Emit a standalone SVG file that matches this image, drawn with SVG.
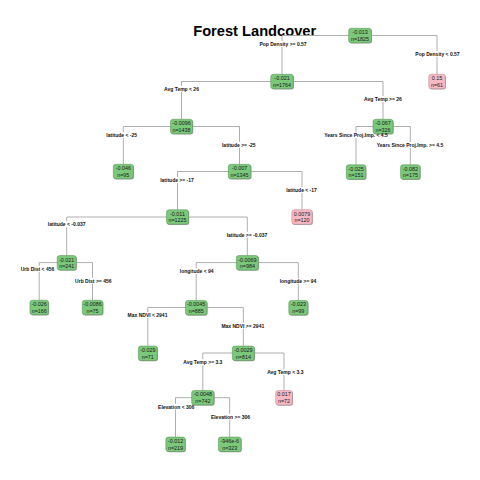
<svg xmlns="http://www.w3.org/2000/svg" width="480" height="480" viewBox="0 0 480 480">
  <style>
    .edge { fill: none; stroke: #a6a6a6; stroke-width: 0.9; }
    .shadow { fill: #a9a9a9; }
    .g { fill: #7bc87b; stroke: #4f8f4f; stroke-width: 0.5; }
    .p { fill: #f8b9c5; stroke: #b07f88; stroke-width: 0.5; }
    .nt { font-family: "Liberation Sans", Arial, sans-serif; font-size: 5.4px; fill: #1a1a1a; text-anchor: middle; }
    .lbl { font-family: "Liberation Sans", Arial, sans-serif; font-size: 5px; fill: #111; text-anchor: middle; font-weight: 600; }
    .lbg { fill: #ffffff; }
    .title { font-family: "Liberation Sans", Arial, sans-serif; font-size: 15.5px; font-weight: bold; fill: #000; text-anchor: middle; }
  </style>

  <rect width="480" height="480" fill="#ffffff"/>

  <text class="title" x="254.7" y="35.7" textLength="123" lengthAdjust="spacingAndGlyphs">Forest Landcover</text>

  <!-- branch lines: from left child up to parent level, across, down to right child -->
  <g id="connectors">
    <path class="edge" d="M282 74.2V35.5H437V74.2"/>
    <path class="edge" d="M181.5 119.2V81.5H383V119.2"/>
    <path class="edge" d="M123.3 164.2V126.5H239.5V164.2"/>
    <path class="edge" d="M356 164.7V126.5H410.3V164.7"/>
    <path class="edge" d="M177.5 209.7V171.5H302V209.7"/>
    <path class="edge" d="M66.7 255.5V217H247.3V255.5"/>
    <path class="edge" d="M39.2 300.2V262.6H92.5V300.2"/>
    <path class="edge" d="M196.2 300.4V262.6H298.3V300.4"/>
    <path class="edge" d="M147.8 346V307.5H243.3V346"/>
    <path class="edge" d="M202.8 390.4V353H284V390.4"/>
    <path class="edge" d="M175.5 437V397.7H229.7V437"/>
  </g>

  <!-- tree nodes: mean response and observation count -->
  <g id="n1" transform="translate(360 35.5)">
    <rect class="shadow" x="-10.6" y="-6.5" width="22.7" height="14.5" rx="2.5"/>
    <rect class="g" x="-11.35" y="-7.25" width="22.7" height="14.5" rx="2.5"/>
    <text class="nt" y="-1.3">-0.013</text><text class="nt" y="5.3">n=1825</text>
  </g>
  <g id="n2" transform="translate(282 81.5)">
    <rect class="shadow" x="-10.5" y="-6.5" width="22.5" height="14.5" rx="2.5"/>
    <rect class="g" x="-11.25" y="-7.25" width="22.5" height="14.5" rx="2.5"/>
    <text class="nt" y="-1.3">-0.021</text><text class="nt" y="5.3">n=1764</text>
  </g>
  <g id="n3" transform="translate(437 81.5)">
    <rect class="shadow" x="-7.5" y="-6.5" width="16.5" height="14.5" rx="2.5"/>
    <rect class="p" x="-8.25" y="-7.25" width="16.5" height="14.5" rx="2.5"/>
    <text class="nt" y="-1.3">0.15</text><text class="nt" y="5.3">n=61</text>
  </g>
  <g id="n4" transform="translate(181.5 126.5)">
    <rect class="shadow" x="-10.25" y="-6.5" width="22" height="14.5" rx="2.5"/>
    <rect class="g" x="-11" y="-7.25" width="22" height="14.5" rx="2.5"/>
    <text class="nt" y="-1.3">-0.0096</text><text class="nt" y="5.3">n=1438</text>
  </g>
  <g id="n5" transform="translate(383 126.5)">
    <rect class="shadow" x="-9.25" y="-6.5" width="20" height="14.5" rx="2.5"/>
    <rect class="g" x="-10" y="-7.25" width="20" height="14.5" rx="2.5"/>
    <text class="nt" y="-1.3">-0.067</text><text class="nt" y="5.3">n=326</text>
  </g>
  <g id="n8" transform="translate(123.3 171.5)">
    <rect class="shadow" x="-9.25" y="-6.5" width="20" height="14.5" rx="2.5"/>
    <rect class="g" x="-10" y="-7.25" width="20" height="14.5" rx="2.5"/>
    <text class="nt" y="-1.3">-0.046</text><text class="nt" y="5.3">n=95</text>
  </g>
  <g id="n9" transform="translate(239.5 171.5)">
    <rect class="shadow" x="-10.5" y="-6.5" width="22.5" height="14.5" rx="2.5"/>
    <rect class="g" x="-11.25" y="-7.25" width="22.5" height="14.5" rx="2.5"/>
    <text class="nt" y="-1.3">-0.007</text><text class="nt" y="5.3">n=1345</text>
  </g>
  <g id="n10" transform="translate(356 172)">
    <rect class="shadow" x="-9" y="-6.5" width="19.5" height="14.5" rx="2.5"/>
    <rect class="g" x="-9.75" y="-7.25" width="19.5" height="14.5" rx="2.5"/>
    <text class="nt" y="-1.3">-0.025</text><text class="nt" y="5.3">n=151</text>
  </g>
  <g id="n11" transform="translate(410.3 172)">
    <rect class="shadow" x="-9" y="-6.5" width="19.5" height="14.5" rx="2.5"/>
    <rect class="g" x="-9.75" y="-7.25" width="19.5" height="14.5" rx="2.5"/>
    <text class="nt" y="-1.3">-0.082</text><text class="nt" y="5.3">n=175</text>
  </g>
  <g id="n18" transform="translate(177.5 217)">
    <rect class="shadow" x="-10.25" y="-6.5" width="22" height="14.5" rx="2.5"/>
    <rect class="g" x="-11" y="-7.25" width="22" height="14.5" rx="2.5"/>
    <text class="nt" y="-1.3">-0.011</text><text class="nt" y="5.3">n=1225</text>
  </g>
  <g id="n19" transform="translate(302 217)">
    <rect class="shadow" x="-9.4" y="-6.5" width="20.3" height="14.5" rx="2.5"/>
    <rect class="p" x="-10.15" y="-7.25" width="20.3" height="14.5" rx="2.5"/>
    <text class="nt" y="-1.3">0.0079</text><text class="nt" y="5.3">n=120</text>
  </g>
  <g id="n36" transform="translate(66.7 262.8)">
    <rect class="shadow" x="-8.75" y="-6.5" width="19" height="14.5" rx="2.5"/>
    <rect class="g" x="-9.5" y="-7.25" width="19" height="14.5" rx="2.5"/>
    <text class="nt" y="-1.3">-0.021</text><text class="nt" y="5.3">n=241</text>
  </g>
  <g id="n37" transform="translate(247.3 262.8)">
    <rect class="shadow" x="-10.25" y="-6.5" width="22" height="14.5" rx="2.5"/>
    <rect class="g" x="-11" y="-7.25" width="22" height="14.5" rx="2.5"/>
    <text class="nt" y="-1.3">-0.0069</text><text class="nt" y="5.3">n=984</text>
  </g>
  <g id="n72" transform="translate(39.2 307.5)">
    <rect class="shadow" x="-8.5" y="-6.5" width="18.5" height="14.5" rx="2.5"/>
    <rect class="g" x="-9.25" y="-7.25" width="18.5" height="14.5" rx="2.5"/>
    <text class="nt" y="-1.3">-0.026</text><text class="nt" y="5.3">n=166</text>
  </g>
  <g id="n73" transform="translate(92.5 307.5)">
    <rect class="shadow" x="-9.5" y="-6.5" width="20.5" height="14.5" rx="2.5"/>
    <rect class="g" x="-10.25" y="-7.25" width="20.5" height="14.5" rx="2.5"/>
    <text class="nt" y="-1.3">-0.0086</text><text class="nt" y="5.3">n=75</text>
  </g>
  <g id="n74" transform="translate(196.2 307.7)">
    <rect class="shadow" x="-10" y="-6.5" width="21.5" height="14.5" rx="2.5"/>
    <rect class="g" x="-10.75" y="-7.25" width="21.5" height="14.5" rx="2.5"/>
    <text class="nt" y="-1.3">-0.0045</text><text class="nt" y="5.3">n=885</text>
  </g>
  <g id="n75" transform="translate(298.3 307.7)">
    <rect class="shadow" x="-8.75" y="-6.5" width="19" height="14.5" rx="2.5"/>
    <rect class="g" x="-9.5" y="-7.25" width="19" height="14.5" rx="2.5"/>
    <text class="nt" y="-1.3">-0.023</text><text class="nt" y="5.3">n=99</text>
  </g>
  <g id="n148" transform="translate(147.8 353.3)">
    <rect class="shadow" x="-8.75" y="-6.5" width="19" height="14.5" rx="2.5"/>
    <rect class="g" x="-9.5" y="-7.25" width="19" height="14.5" rx="2.5"/>
    <text class="nt" y="-1.3">-0.029</text><text class="nt" y="5.3">n=71</text>
  </g>
  <g id="n149" transform="translate(243.3 353.3)">
    <rect class="shadow" x="-10.25" y="-6.5" width="22" height="14.5" rx="2.5"/>
    <rect class="g" x="-11" y="-7.25" width="22" height="14.5" rx="2.5"/>
    <text class="nt" y="-1.3">-0.0029</text><text class="nt" y="5.3">n=814</text>
  </g>
  <g id="n298" transform="translate(202.8 397.7)">
    <rect class="shadow" x="-10.4" y="-6.5" width="22.3" height="14.5" rx="2.5"/>
    <rect class="g" x="-11.15" y="-7.25" width="22.3" height="14.5" rx="2.5"/>
    <text class="nt" y="-1.3">-0.0048</text><text class="nt" y="5.3">n=742</text>
  </g>
  <g id="n299" transform="translate(284 397.7)">
    <rect class="shadow" x="-7.55" y="-6.5" width="16.6" height="14.5" rx="2.5"/>
    <rect class="p" x="-8.3" y="-7.25" width="16.6" height="14.5" rx="2.5"/>
    <text class="nt" y="-1.3">0.017</text><text class="nt" y="5.3">n=72</text>
  </g>
  <g id="n596" transform="translate(175.5 444.3)">
    <rect class="shadow" x="-8.9" y="-6.5" width="19.3" height="14.5" rx="2.5"/>
    <rect class="g" x="-9.65" y="-7.25" width="19.3" height="14.5" rx="2.5"/>
    <text class="nt" y="-1.3">-0.012</text><text class="nt" y="5.3">n=219</text>
  </g>
  <g id="n597" transform="translate(229.7 444.3)">
    <rect class="shadow" x="-10.6" y="-6.5" width="22.7" height="14.5" rx="2.5"/>
    <rect class="g" x="-11.35" y="-7.25" width="22.7" height="14.5" rx="2.5"/>
    <text class="nt" y="-1.3">-946e-6</text><text class="nt" y="5.3">n=323</text>
  </g>

  <!-- split labels on the branches; a white patch breaks the line under each -->
  <g id="split-labels">
    <rect class="lbg" x="279" y="41" width="8" height="6"/><text class="lbl" x="283" y="45.8">Pop Density &gt;= 0.57</text>
    <rect class="lbg" x="433.5" y="51" width="8" height="6"/><text class="lbl" x="437.5" y="55.8">Pop Density &lt; 0.57</text>
    <rect class="lbg" x="177.5" y="86" width="8" height="6"/><text class="lbl" x="181.5" y="90.8">Avg Temp &lt; 26</text>
    <rect class="lbg" x="379" y="96" width="8" height="6"/><text class="lbl" x="383" y="100.8">Avg Temp &gt;= 26</text>
    <rect class="lbg" x="117.7" y="132" width="8" height="6"/><text class="lbl" x="121.7" y="136.8">latitude &lt; -25</text>
    <rect class="lbg" x="234.8" y="141.7" width="8" height="6"/><text class="lbl" x="238.8" y="146.5">latitude &gt;= -25</text>
    <rect class="lbg" x="352" y="132" width="8" height="6"/><text class="lbl" x="356" y="136.8">Years Since Proj.Imp. &lt; 4.5</text>
    <rect class="lbg" x="406" y="142" width="8" height="6"/><text class="lbl" x="410" y="146.8">Years Since Proj.Imp. &gt;= 4.5</text>
    <rect class="lbg" x="173" y="177" width="8" height="6"/><text class="lbl" x="177" y="181.8">latitude &gt;= -17</text>
    <rect class="lbg" x="297.5" y="187" width="8" height="6"/><text class="lbl" x="301.5" y="191.8">latitude &lt; -17</text>
    <rect class="lbg" x="62.7" y="221.3" width="8" height="6"/><text class="lbl" x="66.7" y="226.1">latitude &lt; -0.037</text>
    <rect class="lbg" x="243" y="231.7" width="8" height="6"/><text class="lbl" x="247" y="236.5">latitude &gt;= -0.037</text>
    <rect class="lbg" x="33.5" y="266" width="8" height="6"/><text class="lbl" x="37.5" y="270.8">Urb Dist &lt; 456</text>
    <rect class="lbg" x="89.3" y="277.7" width="8" height="6"/><text class="lbl" x="93.3" y="282.5">Urb Dist &gt;= 456</text>
    <rect class="lbg" x="192.7" y="268" width="8" height="6"/><text class="lbl" x="196.7" y="272.8">longitude &lt; 94</text>
    <rect class="lbg" x="294" y="278" width="8" height="6"/><text class="lbl" x="298" y="282.8">longitude &gt;= 94</text>
    <rect class="lbg" x="143.5" y="312" width="8" height="6"/><text class="lbl" x="147.5" y="316.8">Max NDVI &lt; 2941</text>
    <rect class="lbg" x="238.8" y="322.7" width="8" height="6"/><text class="lbl" x="242.8" y="327.5">Max NDVI &gt;= 2941</text>
    <rect class="lbg" x="198.8" y="359.3" width="8" height="6"/><text class="lbl" x="202.8" y="364.1">Avg Temp &gt;= 3.3</text>
    <rect class="lbg" x="281.3" y="369.3" width="8" height="6"/><text class="lbl" x="285.3" y="374.1">Avg Temp &lt; 3.3</text>
    <rect class="lbg" x="172.2" y="403.7" width="8" height="6"/><text class="lbl" x="176.2" y="408.5">Elevation &lt; 306</text>
    <rect class="lbg" x="226.5" y="413.7" width="8" height="6"/><text class="lbl" x="230.5" y="418.5">Elevation &gt;= 306</text>
  </g>
</svg>
